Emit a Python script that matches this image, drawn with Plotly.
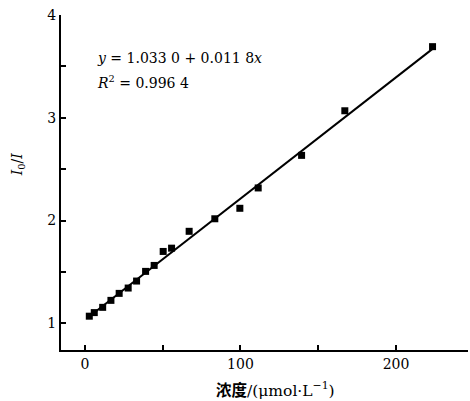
import plotly.graph_objects as go

conc = [2.8, 6.0, 11.4, 16.7, 22.0, 27.8, 33.2, 39.0, 44.5, 50.3, 55.7, 67.0, 83.5, 99.6, 111.4, 139.3, 167.1, 223.5]
ratio = [1.069, 1.104, 1.155, 1.223, 1.291, 1.343, 1.411, 1.505, 1.563, 1.699, 1.731, 1.895, 2.017, 2.119, 2.317, 2.634, 3.068, 3.692]
intercept = 1.0330
slope = 0.0118
x_ticks = [0, 100, 200]
x_minor_step = 50
y_ticks = [1, 2, 3, 4]
y_minor_step = 0.5

fit_x = [min(conc), max(conc)]
fit_y = [intercept + slope * v for v in fit_x]

SERIF = "DejaVu Serif"
FS = 14

fig = go.Figure()
fig.add_trace(go.Scatter(x=fit_x, y=fit_y, mode="lines",
                         line=dict(color="black", width=2), showlegend=False))
fig.add_trace(go.Scatter(x=conc, y=ratio, mode="markers",
                         marker=dict(symbol="square", size=7, color="black"),
                         showlegend=False))

fig.update_layout(
    width=470, height=401,
    margin=dict(l=61, r=2, t=15, b=51),
    paper_bgcolor="white", plot_bgcolor="white",
    font=dict(family=SERIF, size=FS, color="black"),
    xaxis=dict(range=[-15.4, 246.3], tickvals=x_ticks,
               ticks="inside", ticklen=5, tickwidth=2, tickcolor="black",
               minor=dict(tick0=0, dtick=x_minor_step, ticks="inside", ticklen=5,
                          tickwidth=2, tickcolor="black", showgrid=False),
               showline=True, linecolor="black", linewidth=2,
               showgrid=False, zeroline=False,
               tickfont=dict(size=FS, family=SERIF)),
    yaxis=dict(range=[0.740, 4.0], tickvals=y_ticks,
               ticks="inside", ticklen=5, tickwidth=2, tickcolor="black",
               minor=dict(tick0=0, dtick=y_minor_step, ticks="inside", ticklen=5,
                          tickwidth=2, tickcolor="black", showgrid=False),
               showline=True, linecolor="black", linewidth=2,
               showgrid=False, zeroline=False,
               tickfont=dict(size=FS, family=SERIF)),
    annotations=[
        dict(text="<i>y</i> = 1.033 0 + 0.011 8<i>x</i>", x=0.0835, y=0.872,
             xref="paper", yref="paper", xanchor="left", yanchor="middle",
             showarrow=False, font=dict(size=FS, family=SERIF)),
        dict(text="<i>R</i><sup>2</sup> = 0.996 4", x=0.0835, y=0.80,
             xref="paper", yref="paper", xanchor="left", yanchor="middle",
             showarrow=False, font=dict(size=FS, family=SERIF)),
        dict(text="<i>I</i><sub>0</sub>/<i>I</i>", x=-0.105, y=0.552,
             xref="paper", yref="paper", xanchor="center", yanchor="middle",
             textangle=-90, showarrow=False, font=dict(size=FS, family=SERIF)),
        dict(text="<b>浓度</b>/(μmol·L<sup>−1</sup>)", x=0.528, y=-0.119,
             xref="paper", yref="paper", xanchor="center", yanchor="middle",
             showarrow=False,
             font=dict(size=15.5, family="DejaVu Serif, Noto Sans CJK SC")),
    ],
)

fig.write_html("out.html")
